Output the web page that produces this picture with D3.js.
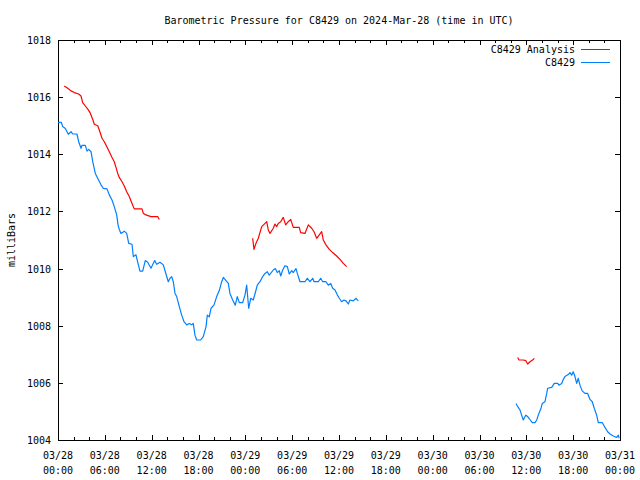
<!DOCTYPE html>
<html>
<head>
<meta charset="utf-8">
<script src="https://cdn.jsdelivr.net/npm/d3@7"></script>
<style>
  body { margin: 0; background: #fff; }
  svg { display: block; }
  text { font-family: "DejaVu Sans Mono", "Liberation Mono", monospace; font-size: 10px; fill: #000; }
</style>
</head>
<body>
<svg id="chart" width="640" height="480"></svg>
<script>
// ---- data (hours since 2024-03-28 00:00 UTC, pressure in mbar) ----
const title = "Barometric Pressure for C8429 on 2024-Mar-28 (time in UTC)";
const yLabel = "milliBars";
const seriesNames = ["C8429 Analysis", "C8429"];
const xTickHours = [0, 6, 12, 18, 24, 30, 36, 42, 48, 54, 60, 66, 72];
const xTickDates = ["03/28","03/28","03/28","03/28","03/29","03/29","03/29","03/29","03/30","03/30","03/30","03/30","03/31"];
const xTickTimes = ["00:00","06:00","12:00","18:00","00:00","06:00","12:00","18:00","00:00","06:00","12:00","18:00","00:00"];
const yTicks = [1004, 1006, 1008, 1010, 1012, 1014, 1016, 1018];

// Observed C8429 (blue), segment 1
const obsHours1 = [0,0.42,0.6,0.94,1.32,1.67,1.88,2.43,2.65,2.95,3.07,3.5,3.72,3.93,4.23,4.45,4.78,5.09,5.51,5.8,6.28,6.57,6.92,7.21,7.52,7.69,7.85,8.07,8.49,8.8,9.06,9.48,9.65,9.99,10.25,10.5,10.85,11.18,11.49,11.91,12.39,12.64,13.07,13.49,13.75,14.13,14.35,14.57,14.77,14.99,15.21,15.54,15.85,16.14,16.49,16.82,17.13,17.33,17.55,17.77,18.28,18.61,18.96,19.13,19.38,19.6,19.98,20.33,20.66,20.97,21.18,21.52,21.82,22.03,22.38,22.71,22.97,23.23,23.66,23.96,24.17,24.43,24.69,25.02,25.37,25.53,25.88,26.22,26.52,26.81,27.07,27.58,27.84,28.09,28.35,28.53,28.79,29.08,29.38,29.63,29.94,30.14,30.49,30.66,31.0,31.64,31.94,32.28,32.63,32.8,33.35,33.65,33.91,34.33,34.63,34.94,35.19,35.49,35.78,36.04,36.34,36.64,36.9,37.19,37.41,37.83,38.18,38.47];
const obsPressure1 = [1015.12,1015.12,1014.97,1014.9,1014.7,1014.79,1014.71,1014.71,1014.44,1014.21,1014.31,1014.31,1014.11,1014.17,1014.09,1013.74,1013.33,1013.16,1012.93,1012.81,1012.79,1012.58,1012.4,1012.17,1011.88,1011.53,1011.37,1011.23,1011.31,1011.23,1010.88,1010.85,1010.42,1010.48,1010.18,1009.91,1009.91,1010.28,1010.22,1010.01,1010.28,1010.15,1010.22,1010.13,1009.89,1009.54,1009.66,1009.72,1009.54,1009.13,1009.02,1008.67,1008.37,1008.14,1008.03,1008.08,1008.03,1008.08,1007.67,1007.5,1007.5,1007.62,1007.96,1008.37,1008.31,1008.61,1008.72,1009.02,1009.23,1009.54,1009.69,1009.58,1009.48,1009.13,1008.9,1008.72,1009.02,1008.81,1008.81,1009.08,1009.42,1008.61,1008.96,1008.9,1009.25,1009.42,1009.54,1009.72,1009.83,1009.89,1009.77,1009.95,1010.0,1009.86,1009.93,1009.74,1009.95,1010.1,1010.07,1009.81,1009.93,1009.86,1010.0,1009.83,1009.54,1009.54,1009.66,1009.54,1009.66,1009.54,1009.54,1009.66,1009.54,1009.54,1009.42,1009.48,1009.31,1009.25,1009.08,1008.96,1008.84,1008.9,1008.87,1008.76,1008.9,1008.87,1008.96,1008.87];

// Observed C8429 (blue), segment 2
const obsHours2 = [58.67,58.97,59.19,59.4,59.61,59.92,60.17,60.34,60.51,60.76,61.11,61.33,61.53,61.88,62.04,62.39,62.61,62.73,63.25,63.58,64.02,64.18,64.53,64.73,64.95,65.37,65.59,65.81,66.01,66.23,66.45,66.65,66.87,67.16,67.51,67.86,68.15,68.45,68.7,69.01,69.22,69.73,70.07,70.42,70.72,71.14,71.57,71.78,71.9];
const obsPressure2 = [1005.28,1005.14,1005.05,1004.87,1004.7,1004.87,1004.82,1004.76,1004.7,1004.61,1004.61,1004.7,1004.87,1005.11,1005.28,1005.34,1005.63,1005.81,1005.84,1005.98,1005.98,1005.92,1005.98,1006.12,1006.22,1006.29,1006.36,1006.27,1006.39,1006.22,1005.98,1006.16,1005.92,1005.72,1005.63,1005.63,1005.42,1005.34,1005.11,1004.87,1004.61,1004.61,1004.44,1004.29,1004.21,1004.14,1004.09,1004.17,1004.06];

// Analysis (red), segments 1-3
const anaHours1 = [0.81,1.24,1.67,2.09,2.65,2.95,3.16,3.5,3.84,4.1,4.45,4.65,5.09,5.29,5.64,5.93,6.24,6.57,6.92,7.21,7.43,7.65,7.85,8.2,8.49,8.8,9.13,9.48,9.77,10.76,10.93,11.27,11.91,12.77,12.98];
const anaPressure1 = [1016.39,1016.31,1016.22,1016.16,1016.11,1016.04,1015.81,1015.69,1015.57,1015.46,1015.22,1015.05,1015.0,1014.85,1014.56,1014.44,1014.27,1014.09,1013.89,1013.74,1013.54,1013.33,1013.19,1013.04,1012.89,1012.69,1012.52,1012.28,1012.09,1012.09,1011.93,1011.88,1011.82,1011.82,1011.72];
const anaHours2 = [24.94,25.11,25.37,25.66,26.1,26.52,26.74,26.94,27.16,27.58,27.8,28.02,28.22,28.53,28.86,29.17,29.5,29.81,30.14,30.91,31.09,31.64,32.07,32.5,32.8,33.14,33.47,33.78,33.99,34.33,34.76,35.19,35.7,36.13,36.55,36.98];
const anaPressure2 = [1011.06,1010.67,1010.89,1011.06,1011.47,1011.58,1011.64,1011.35,1011.23,1011.41,1011.56,1011.47,1011.58,1011.64,1011.79,1011.53,1011.64,1011.72,1011.44,1011.44,1011.26,1011.23,1011.53,1011.41,1011.29,1011.06,1011.18,1011.29,1011.0,1010.83,1010.67,1010.56,1010.44,1010.32,1010.18,1010.07];
const anaHours3 = [58.89,59.06,59.61,59.92,60.17,60.47,60.89,61.02];
const anaPressure3 = [1006.89,1006.8,1006.8,1006.78,1006.66,1006.74,1006.82,1006.86];

// ---- drawing ----
const svg = d3.select("#chart");
const mLeft = 58, mRight = 620, mTop = 40, mBottom = 440;
const colors = { analysis: "#ff0000", obs: "#0080ff" };

const x = d3.scaleLinear().domain([0, 72]).range([mLeft, mRight]);
const y = d3.scaleLinear().domain([1004, 1018]).range([mBottom, mTop]);
const minorHours = d3.range(0, 73, 2).filter(h => !xTickHours.includes(h));

// ticks (inward, mirrored)
svg.append("g").attr("transform", `translate(0,${mBottom})`)
  .call(d3.axisBottom(x).tickValues(xTickHours).tickSizeInner(-5).tickSizeOuter(0).tickFormat(""));
svg.append("g").attr("transform", `translate(0,${mBottom})`)
  .call(d3.axisBottom(x).tickValues(minorHours).tickSizeInner(-3).tickSizeOuter(0).tickFormat(""));
svg.append("g").attr("transform", `translate(0,${mTop})`)
  .call(d3.axisTop(x).tickValues(xTickHours).tickSizeInner(-5).tickSizeOuter(0).tickFormat(""));
svg.append("g").attr("transform", `translate(0,${mTop})`)
  .call(d3.axisTop(x).tickValues(minorHours).tickSizeInner(-3).tickSizeOuter(0).tickFormat(""));
const ly = svg.append("g").attr("transform", `translate(${mLeft},0)`)
  .call(d3.axisLeft(y).tickValues(yTicks).tickSizeInner(-5).tickSizeOuter(0).tickFormat(d3.format("d")));
svg.append("g").attr("transform", `translate(${mRight},0)`)
  .call(d3.axisRight(y).tickValues(yTicks).tickSizeInner(-5).tickSizeOuter(0).tickFormat(""));

svg.selectAll(".domain").remove();
svg.selectAll(".tick line").attr("stroke", "#000").attr("shape-rendering", "crispEdges");
ly.selectAll(".tick text").attr("x", -7).attr("dy", "0.35em")
  .style("font-family", '"DejaVu Sans Mono", monospace').style("font-size", "10px").attr("fill", "#000");

// x tick labels (two lines) positioned by the scale
const xl = svg.append("g");
xl.selectAll("text.d").data(xTickHours).join("text").attr("class", "d")
  .attr("x", d => x(d)).attr("y", 459).attr("text-anchor", "middle")
  .text((d, i) => xTickDates[i]);
xl.selectAll("text.t").data(xTickHours).join("text").attr("class", "t")
  .attr("x", d => x(d)).attr("y", 474).attr("text-anchor", "middle")
  .text((d, i) => xTickTimes[i]);

// frame
svg.append("rect").attr("x", mLeft + 0.5).attr("y", mTop + 0.5)
  .attr("width", mRight - mLeft).attr("height", mBottom - mTop)
  .attr("fill", "none").attr("stroke", "#000").attr("shape-rendering", "crispEdges");

// lines
const line = d3.line().x(d => x(d[0])).y(d => y(d[1]));
const segs = [
  { h: anaHours1, p: anaPressure1, c: colors.analysis },
  { h: anaHours2, p: anaPressure2, c: colors.analysis },
  { h: anaHours3, p: anaPressure3, c: colors.analysis },
  { h: obsHours1, p: obsPressure1, c: colors.obs },
  { h: obsHours2, p: obsPressure2, c: colors.obs }
];
svg.append("g").selectAll("path").data(segs).join("path")
  .attr("d", s => line(d3.zip(s.h, s.p)))
  .attr("fill", "none").attr("stroke", s => s.c).attr("stroke-width", 1.2)
  .attr("stroke-linejoin", "round");

// title & y label
svg.append("text").attr("x", 339).attr("y", 24).attr("text-anchor", "middle").text(title);
svg.append("text").attr("transform", "translate(15,240) rotate(-90)").attr("text-anchor", "middle").text(yLabel);

// legend
const legend = svg.append("g");
[colors.analysis, colors.obs].forEach((c, i) => {
  const yy = 49 + i * 13;
  legend.append("text").attr("x", 575).attr("y", yy + 4).attr("text-anchor", "end").text(seriesNames[i]);
  legend.append("line").attr("x1", 581).attr("x2", 610).attr("y1", yy + 0.5).attr("y2", yy + 0.5)
    .attr("stroke", c).attr("stroke-width", 1).attr("shape-rendering", "crispEdges");
});
</script>
</body>
</html>
